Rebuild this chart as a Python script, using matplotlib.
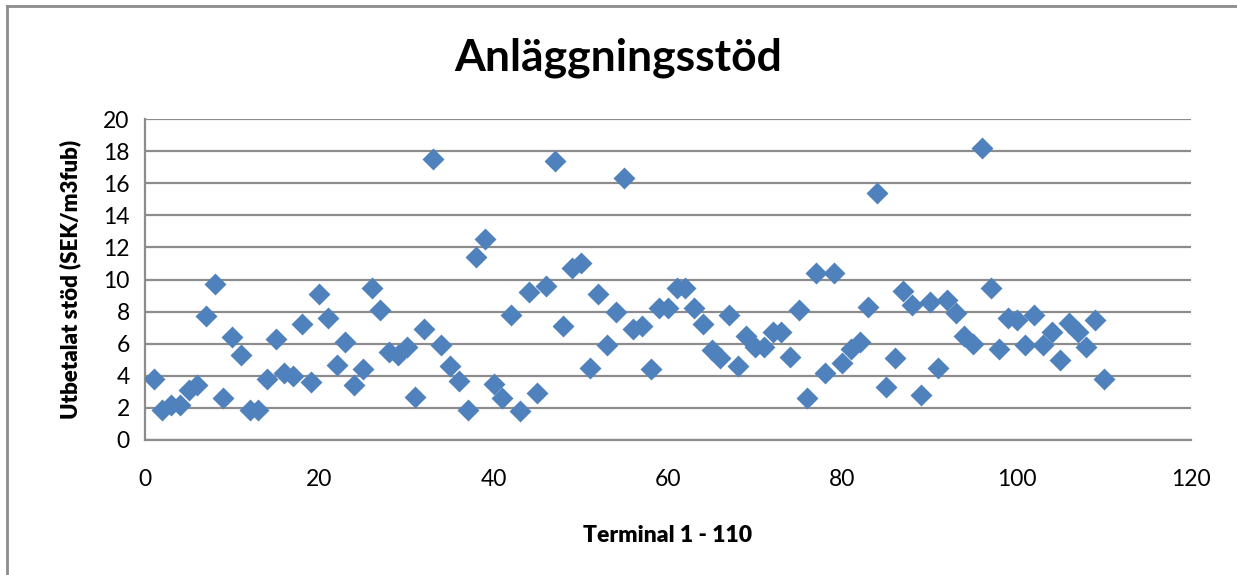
import matplotlib
matplotlib.use("Agg")
import matplotlib.pyplot as plt
from matplotlib.lines import Line2D

terminal = list(range(1, 111))
stod = [3.8, 1.9, 2.2, 2.2, 3.1, 3.4, 7.7, 9.7, 2.6, 6.4,
        5.3, 1.9, 1.9, 3.8, 6.3, 4.2, 4.0, 7.2, 3.6, 9.1,
        7.6, 4.7, 6.1, 3.4, 4.4, 9.5, 8.1, 5.5, 5.3, 5.8,
        2.7, 6.9, 17.5, 5.9, 4.6, 3.7, 1.9, 11.4, 12.5, 3.5,
        2.6, 7.8, 1.8, 9.2, 2.9, 9.6, 17.4, 7.1, 10.7, 11.0,
        4.5, 9.1, 5.9, 8.0, 16.3, 6.9, 7.1, 4.4, 8.2, 8.2,
        9.5, 9.5, 8.2, 7.2, 5.6, 5.1, 7.8, 4.6, 6.5, 5.8,
        5.8, 6.7, 6.7, 5.2, 8.1, 2.6, 10.4, 4.2, 10.4, 4.8,
        5.7, 6.1, 8.3, 15.4, 3.3, 5.1, 9.3, 8.4, 2.8, 8.6,
        4.5, 8.7, 7.9, 6.5, 6.0, 18.2, 9.5, 5.7, 7.6, 7.5,
        5.9, 7.8, 5.9, 6.7, 5.0, 7.3, 6.7, 5.8, 7.5, 3.8]

x_ticks = [0, 20, 40, 60, 80, 100, 120]
y_ticks = [0, 2, 4, 6, 8, 10, 12, 14, 16, 18, 20]

plt.rcParams['font.family'] = ['Lato', 'DejaVu Sans']

W, H = 1237, 575
fig = plt.figure(figsize=(W / 100, H / 100), dpi=100)
ax = fig.add_axes([145 / W, 1 - 440 / H, (1191 - 145) / W, (440 - 119) / H])

ax.scatter(terminal, stod, marker='D', s=125, color='#4F81BD', linewidths=0, zorder=3)

ax.set_xlim(0, 120)
ax.set_ylim(0, 20)
ax.set_xticks(x_ticks)
ax.set_yticks(y_ticks)
ax.tick_params(axis='both', length=0, labelsize=16.5, colors='black')
ax.tick_params(axis='x', pad=21)
ax.tick_params(axis='y', pad=11)
ax.grid(axis='y', color='#8C8C8C', linewidth=1.6)
ax.set_axisbelow(True)
for side in ['top', 'right']:
    ax.spines[side].set_visible(False)
for side in ['left', 'bottom']:
    ax.spines[side].set_color('#8C8C8C')
    ax.spines[side].set_linewidth(1.6)

ax.set_xlabel('Terminal 1 - 110', fontsize=16.5, fontweight='heavy', labelpad=25)
ax.set_ylabel('Utbetalat stöd (SEK/m3fub)', fontsize=16, fontweight='heavy', labelpad=16)

fig.text(0.5, 1 - 58 / H, 'Anläggningsstöd', ha='center', va='center',
         fontsize=32, fontweight='bold')

# outer chart border (top and left visible)
fig.add_artist(Line2D([7 / W, 1.0], [1 - 6 / H, 1 - 6 / H], transform=fig.transFigure,
                      color='#8C8C8C', linewidth=2))
fig.add_artist(Line2D([7 / W, 7 / W], [0, 1 - 6 / H], transform=fig.transFigure,
                      color='#8C8C8C', linewidth=2))

fig.savefig('out.png', dpi=100)
